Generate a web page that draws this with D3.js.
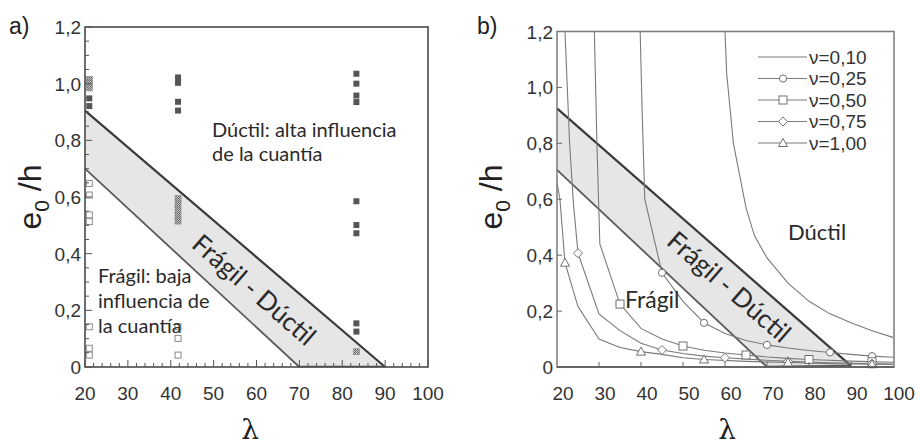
<!DOCTYPE html>
<html><head><meta charset="utf-8">
<script src="https://cdn.jsdelivr.net/npm/d3@7"></script>
<style>body{margin:0;background:#fff}</style>
</head><body>
<svg id="c" width="920" height="447"></svg>
<script>
// ---------- shared axis data ----------
const lambdaTicks = [20, 30, 40, 50, 60, 70, 80, 90, 100];
const eTicks = [0, 0.2, 0.4, 0.6, 0.8, 1.0, 1.2];
const eTickLabels = ["0", "0,2", "0,4", "0,6", "0,8", "1,0", "1,2"];

// ---------- panel a: test points [lambda, e0/h] ----------
const ductilePoints = [
  [21, 0.948], [21, 0.921],
  [41.7, 1.022], [41.7, 1.003], [41.7, 0.936], [41.7, 0.905],
  [83.3, 1.035], [83.3, 1.0], [83.3, 0.958], [83.3, 0.935],
  [83.3, 0.585], [83.3, 0.501], [83.3, 0.472], [83.3, 0.154], [83.3, 0.125]
];
const fragilePoints = [
  [21, 0.648], [21, 0.607], [21, 0.537], [21, 0.513],
  [21, 0.142], [21, 0.066], [21, 0.042],
  [41.7, 0.142], [41.7, 0.101], [41.7, 0.042]
];
const transitionPoints = [
  [21, 1.015], [21, 1.0], [21, 0.985],
  [41.7, 0.595], [41.7, 0.575], [41.7, 0.555], [41.7, 0.535], [41.7, 0.515],
  [83.3, 0.054]
];
const bandUpperA = [[20, 0.905], [90, 0]];
const bandLowerA = [[20, 0.70], [70, 0]];

// ---------- panel b: curves [lambda, e0/h] ----------
const bandUpperB = [[20, 0.925], [90, 0.004]];
const bandLowerB = [[20, 0.705], [70, 0.0]];
const seriesNames = ["ν=0,10", "ν=0,25", "ν=0,50", "ν=0,75", "ν=1,00"];
const seriesMarkers = ["none", "circle", "square", "diamond", "triangle"];
const curveNu010 = [[60, 1.2], [60.4, 1.05], [62, 0.8], [65, 0.57], [67, 0.47], [70, 0.39],
  [75, 0.3], [80, 0.235], [85, 0.19], [90, 0.158], [95, 0.13], [100, 0.106]];
const curveNu025 = [[39.8, 1.2], [40.3, 0.9], [40.9, 0.6], [45, 0.337], [50, 0.235], [55, 0.158],
  [60, 0.12], [65, 0.095], [70, 0.079], [75, 0.068], [80, 0.059], [85, 0.052], [90, 0.045],
  [95, 0.039], [100, 0.035]];
const curveNu050 = [[28.9, 1.2], [29.5, 0.8], [30.2, 0.44], [35, 0.225], [40, 0.138], [45, 0.1],
  [50, 0.075], [55, 0.06], [60, 0.05], [65, 0.043], [70, 0.036], [75, 0.031], [80, 0.027],
  [90, 0.021], [100, 0.017]];
const curveNu075 = [[21.9, 1.2], [23, 0.8], [23.9, 0.587], [25, 0.407], [30, 0.19], [35, 0.13],
  [40, 0.085], [45, 0.061], [50, 0.048], [55, 0.039], [60, 0.033], [70, 0.024], [75, 0.02],
  [85, 0.015], [95, 0.012], [100, 0.011]];
const curveNu100 = [[20, 0.66], [20.7, 0.6], [21.9, 0.373], [25, 0.216], [30, 0.1], [35, 0.07],
  [40, 0.055], [45, 0.045], [50, 0.033], [55, 0.027], [65, 0.02], [75, 0.016], [85, 0.012],
  [95, 0.01], [100, 0.009]];
const marksNu025 = [[45, 0.337], [55, 0.158], [70, 0.079], [85, 0.052], [95, 0.039]];
const marksNu050 = [[35, 0.225], [50, 0.075], [65, 0.043], [80, 0.027], [95, 0.019]];
const marksNu075 = [[25, 0.407], [45, 0.061], [60, 0.033], [75, 0.02], [95, 0.012]];
const marksNu100 = [[21.9, 0.373], [40, 0.055], [55, 0.027], [75, 0.016], [95, 0.01]];

const curves = [curveNu010, curveNu025, curveNu050, curveNu075, curveNu100];
const curveMarks = [[], marksNu025, marksNu050, marksNu075, marksNu100];

// ---------- drawing ----------
const svg = d3.select("#c");
const NUMFONT = "'Liberation Sans', Arial, sans-serif";
const TXTFONT = "Lato, 'Open Sans', sans-serif";

const defs = svg.append("defs");
const pat = defs.append("pattern").attr("id", "hatch").attr("patternUnits", "userSpaceOnUse")
  .attr("width", 2).attr("height", 2);
pat.append("rect").attr("width", 2).attr("height", 2).attr("fill", "#c8c8c8");
pat.append("rect").attr("width", 1).attr("height", 1).attr("fill", "#666");
pat.append("rect").attr("x", 1).attr("y", 1).attr("width", 1).attr("height", 1).attr("fill", "#666");

function drawFrame(g, x, y, opts) {
  const [x0, x1] = x.range(), [y0, y1] = y.range();
  g.selectAll(null).data(lambdaTicks).join("text")
    .attr("x", d => x(d) + opts.xLabelShift).attr("y", 400)
    .attr("text-anchor", "middle").attr("font-family", NUMFONT).attr("font-size", 19)
    .attr("fill", "#333").text(d => d);
  g.selectAll(null).data(eTicks).join("text")
    .attr("x", x0 - 4).attr("y", d => y(d) + 7)
    .attr("text-anchor", "end").attr("font-family", NUMFONT).attr("font-size", 19)
    .attr("fill", "#333").text((d, i) => eTickLabels[i]);
  if (opts.minor) {
    const xm = d3.range(20, 100.1, 2);
    g.selectAll(null).data(xm).join("line")
      .attr("x1", d => x(d)).attr("x2", d => x(d))
      .attr("y1", y0).attr("y2", d => y0 - (d % 10 === 0 ? 7 : 4))
      .attr("stroke", "#555").attr("stroke-width", 1);
    const ym = d3.range(0, 1.201, 0.05);
    g.selectAll(null).data(ym).join("line")
      .attr("x1", x0).attr("x2", (d, i) => x0 + (i % 4 === 0 ? 7 : 4))
      .attr("y1", d => y(d)).attr("y2", d => y(d))
      .attr("stroke", "#555").attr("stroke-width", 1);
  } else {
    g.selectAll(null).data(lambdaTicks.slice(1, -1)).join("line")
      .attr("x1", d => x(d)).attr("x2", d => x(d)).attr("y1", y0).attr("y2", y0 - 5)
      .attr("stroke", "#666").attr("stroke-width", 1);
    g.selectAll(null).data(eTicks.slice(1, -1)).join("line")
      .attr("x1", x0).attr("x2", x0 + 5).attr("y1", d => y(d)).attr("y2", d => y(d))
      .attr("stroke", "#666").attr("stroke-width", 1);
  }
  const yt = g.append("text").attr("transform", `translate(${opts.yTitleX},197) rotate(-90)`)
    .attr("text-anchor", "middle").attr("font-family", NUMFONT).attr("font-size", 32).attr("fill", "#222");
  yt.append("tspan").text("e");
  yt.append("tspan").attr("font-size", 21).attr("dy", 8).text("0");
  yt.append("tspan").attr("dy", -8).text(" /h");
  g.append("text").attr("x", opts.lamX).attr("y", 439).attr("text-anchor", "middle")
    .attr("font-family", "'DejaVu Serif', 'Liberation Serif', serif").attr("font-size", 28)
    .attr("fill", "#222").text("λ");
  g.append("text").attr("x", opts.tagX).attr("y", opts.tagY).attr("font-family", NUMFONT)
    .attr("font-size", 23).attr("fill", "#222").text(opts.tag);
}

function drawBand(g, x, y, up, lo, wUp, wLo) {
  const poly = [up[0], up[1], lo[1], lo[0]];
  g.append("path").attr("d", d3.line().x(d => x(d[0])).y(d => y(d[1]))(poly) + "Z")
    .attr("fill", "#e6e6e6").attr("stroke", "none");
  g.append("line").attr("x1", x(lo[1][0])).attr("x2", x(up[1][0]))
    .attr("y1", y(lo[1][1]) - 0.5).attr("y2", y(up[1][1]) - 0.5).attr("stroke", "#555").attr("stroke-width", 1.5);
  const ln = d3.line().x(d => x(d[0])).y(d => y(d[1]));
  g.append("path").attr("d", ln(lo)).attr("fill", "none").attr("stroke", "#5a5a5a").attr("stroke-width", wLo);
  g.append("path").attr("d", ln(up)).attr("fill", "none").attr("stroke", "#3a3a3a").attr("stroke-width", wUp);
}

// ===== Panel a =====
const xa = d3.scaleLinear().domain([20, 100]).range([85, 428]);
const ya = d3.scaleLinear().domain([0, 1.2]).range([367, 27]);
const ga = svg.append("g");
drawBand(ga, xa, ya, bandUpperA, bandLowerA, 2.2, 1.8);
const sq = 6;
ga.selectAll(null).data(fragilePoints).join("rect")
  .attr("x", d => xa(d[0]) - sq / 2).attr("y", d => ya(d[1]) - sq / 2).attr("width", sq).attr("height", sq)
  .attr("fill", "#fff").attr("stroke", "#8a8a8a").attr("stroke-width", 1);
ga.selectAll(null).data(transitionPoints).join("rect")
  .attr("x", d => xa(d[0]) - sq / 2).attr("y", d => ya(d[1]) - sq / 2).attr("width", sq).attr("height", sq)
  .attr("fill", "url(#hatch)").attr("stroke", "#888").attr("stroke-width", 0.6);
ga.selectAll(null).data(ductilePoints).join("rect")
  .attr("x", d => xa(d[0]) - sq / 2).attr("y", d => ya(d[1]) - sq / 2).attr("width", sq).attr("height", sq)
  .attr("fill", "#555");
ga.append("rect").attr("x", 85).attr("y", 27).attr("width", 343).attr("height", 340)
  .attr("fill", "none").attr("stroke", "#4a4a4a").attr("stroke-width", 1.6);
drawFrame(ga, xa, ya, { minor: true, xLabelShift: 0, yTitleX: 41, tag: "a)", tagX: 9, tagY: 34, lamX: 250 });
const ta = ga.append("g").attr("font-family", TXTFONT).attr("fill", "#2a2a2a");
ta.append("text").attr("x", 212).attr("y", 137).attr("font-size", 20).text("Dúctil: alta influencia");
ta.append("text").attr("x", 212).attr("y", 161).attr("font-size", 20).text("de la cuantía");
ta.append("text").attr("x", 98).attr("y", 283).attr("font-size", 20).text("Frágil: baja");
ta.append("text").attr("x", 98).attr("y", 308).attr("font-size", 20).text("influencia de");
ta.append("text").attr("x", 98).attr("y", 333).attr("font-size", 20).text("la cuantía");
ta.append("text").attr("transform", "translate(254,290) rotate(41)").attr("text-anchor", "middle")
  .attr("dy", 9).attr("font-size", 26).text("Frágil - Dúctil");

// ===== Panel b =====
const xb = d3.scaleLinear().domain([20, 100]).range([557, 893]);
const yb = d3.scaleLinear().domain([0, 1.2]).range([367, 31.5]);
const gb = svg.append("g");
defs.append("clipPath").attr("id", "clipb").append("rect")
  .attr("x", 557).attr("y", 31.5).attr("width", 337).attr("height", 335.5);
drawBand(gb, xb, yb, bandUpperB, bandLowerB, 2.2, 1.8);
const cg = gb.append("g").attr("clip-path", "url(#clipb)");
const lineB = d3.line().x(d => xb(d[0])).y(d => yb(d[1]));
const CURVE = "#7a7a7a";
curves.forEach(c => {
  cg.append("path").attr("d", lineB(c)).attr("fill", "none").attr("stroke", CURVE).attr("stroke-width", 1.1);
});
function marker(g, type, cx, cy) {
  if (type === "circle") g.append("circle").attr("cx", cx).attr("cy", cy).attr("r", 3.6);
  else if (type === "square") g.append("rect").attr("x", cx - 4).attr("y", cy - 4).attr("width", 8).attr("height", 8);
  else if (type === "diamond") g.append("path").attr("d", `M${cx},${cy - 4.5}L${cx + 4.5},${cy}L${cx},${cy + 4.5}L${cx - 4.5},${cy}Z`);
  else if (type === "triangle") g.append("path").attr("d", `M${cx},${cy - 4.5}L${cx + 4.5},${cy + 3.5}L${cx - 4.5},${cy + 3.5}Z`);
}
const mg = gb.append("g").attr("fill", "#fff").attr("stroke", "#707070").attr("stroke-width", 1);
curveMarks.forEach((ms, i) => ms.forEach(m => marker(mg, seriesMarkers[i], xb(m[0]), yb(m[1]))));
gb.append("rect").attr("x", 557).attr("y", 31.5).attr("width", 337).attr("height", 335.5)
  .attr("fill", "none").attr("stroke", "#7a7a7a").attr("stroke-width", 1.5);
gb.append("line").attr("x1", 557).attr("x2", 894).attr("y1", 367).attr("y2", 367)
  .attr("stroke", "#555").attr("stroke-width", 1.6);
drawFrame(gb, xb, yb, { minor: false, xLabelShift: 6, yTitleX: 502, tag: "b)", tagX: 477, tagY: 34, lamX: 727 });

const lg = gb.append("g");
seriesNames.forEach((name, i) => {
  const yy = 57 + i * 21.5;
  lg.append("line").attr("x1", 758).attr("x2", 807).attr("y1", yy).attr("y2", yy)
    .attr("stroke", CURVE).attr("stroke-width", 1.1);
  const mk = lg.append("g").attr("fill", "#fff").attr("stroke", "#707070").attr("stroke-width", 1);
  marker(mk, seriesMarkers[i], 783, yy);
  lg.append("text").attr("x", 809).attr("y", yy + 6.5).attr("font-family", NUMFONT)
    .attr("font-size", 19).attr("fill", "#333").text(name);
});
const tb = gb.append("g").attr("font-family", TXTFONT).attr("fill", "#2a2a2a");
tb.append("text").attr("x", 788).attr("y", 240).attr("font-size", 22).text("Dúctil");
tb.append("text").attr("x", 625).attr("y", 308).attr("font-size", 23).text("Frágil");
tb.append("text").attr("transform", "translate(729,287) rotate(41)").attr("text-anchor", "middle")
  .attr("dy", 9).attr("font-size", 26).text("Frágil - Dúctil");
</script>
</body></html>
